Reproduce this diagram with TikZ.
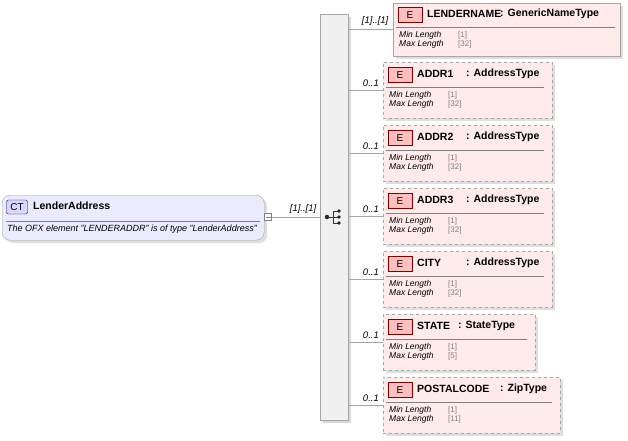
\documentclass[tikz,border=0pt]{standalone}
\usepackage{fontspec}
\setmainfont{Liberation Sans}
\begin{document}
\begin{tikzpicture}[x=1pt,y=-1pt,
  el/.style={draw=gray!70, fill=red!8, minimum height=56pt, anchor=north west, inner sep=0pt},
  opt/.style={el, dashed},
  shadow/.style={fill=gray!25, draw=none},
  badge/.style={draw=red!50!black, fill=red!25, font=\fontsize{10}{11}\selectfont, minimum width=24pt, minimum height=15pt, inner sep=0pt},
  ttl/.style={font=\bfseries\fontsize{10.5}{12}\selectfont, anchor=west, inner sep=0pt},
  prop/.style={font=\itshape\fontsize{8.5}{9}\selectfont, anchor=west, inner sep=0pt},
  val/.style={font=\fontsize{8}{9}\selectfont, text=gray, anchor=west, inner sep=0pt},
  card/.style={font=\itshape\fontsize{9.5}{10}\selectfont, anchor=south},
  conn/.style={draw=gray!70}]
\useasboundingbox (0,0) rectangle (628,440);
% CT
\fill[gray!25, rounded corners=8pt] (5,198) rectangle (267,243);
\node[draw=gray!70, fill=blue!8, rounded corners=8pt, minimum width=262pt, minimum height=45pt, anchor=north west, inner sep=0pt] (ct) at (2,195) {};
\node[draw=blue!50!black, fill=blue!15, rounded corners=2pt, font=\fontsize{10}{11}\selectfont, minimum width=21pt, minimum height=14pt, inner sep=0pt] (ctb) at (17,207) {CT};
\node[ttl] (ctt) at (33,206) {LenderAddress};
\draw[gray] (6,221) -- (260,221);
\node[prop, font=\itshape\fontsize{9}{10}\selectfont] (ctd) at (7,229) {The OFX element "LENDERADDR" is of type "LenderAddress"};
\node[draw=gray, fill=white, minimum size=7pt, inner sep=0pt] (sq) at (268,217) {};
\draw[gray] (265.5,217)--(270.5,217);
% sequence
\fill[gray!30] (323,17) rectangle (351,423);
\node[draw=gray!70, fill=gray!12, minimum width=28pt, minimum height=406pt, anchor=north west, inner sep=0pt] (seq) at (320,14) {};
\coordinate (seqin) at (320,217);
\draw[conn] (sq.east) -- (seqin) node[card, pos=0.65] {[1]..[1]};
% seq icon
\draw[gray!40!black, line width=0.8pt] (327,217) -- (333,217) (333,211) -- (333,223) (333,211)--(339,211) (333,217)--(339,217) (333,223)--(339,223);
\fill[gray!30!black] (327,217) circle (2.2) (339,211) circle (1.8) (339,217) circle (1.8) (339,223) circle (1.8);
% children
\foreach \n/\y/\w/\t/\tx/\ty/\mx in {
  a/62/169/ADDR1/466/{: AddressType}/32,
  b/125/169/ADDR2/466/{: AddressType}/32,
  c/188/169/ADDR3/466/{: AddressType}/32,
  d/251/169/CITY/466/{: AddressType}/32,
  e/314/152/STATE/458/{: StateType}/5,
  f/377/177/POSTALCODE/500/{: ZipType}/11}{
  \fill[shadow] (386,\y+3) rectangle (383+\w+3,\y+59);
  \node[opt, minimum width=\w pt] (\n) at (383,\y) {};
  \node[badge] (\n b) at (400,\y+13) {E};
  \node[ttl] (\n t) at (417,\y+12) {\t};
  \node[ttl] (\n ty) at (\tx,\y+12) {\ty};
  \draw[gray] (386,\y+25) -- (383+\w-8,\y+25);
  \node[prop] (\n p1) at (389,\y+33) {Min Length};
  \node[prop] (\n p2) at (389,\y+42) {Max Length};
  \node[val] (\n v1) at (448,\y+33) {[1]};
  \node[val] (\n v2) at (448,\y+42) {[\mx]};
  \draw[conn] (seq.east |- \n.west) -- (\n.west) node[card, pos=0.65] {0..1};
}
% LENDERNAME
\fill[shadow] (396,6) rectangle (623,59);
\node[el, minimum width=227pt, minimum height=53pt] (g) at (393,3) {};
\node[badge] (gb) at (410,15) {E};
\node[ttl] (gt) at (427,14) {LENDERNAME};
\node[ttl] (gty) at (500,14) {: GenericNameType};
\draw[gray] (396,27) -- (615,27);
\node[prop] (gp1) at (399,35) {Min Length};
\node[prop] (gp2) at (399,44) {Max Length};
\node[val] (gv1) at (458,35) {[1]};
\node[val] (gv2) at (458,44) {[32]};
\coordinate (gin) at (393,29);
\draw[conn] (seq.east |- gin) -- (gin) node[card, pos=0.6] {[1]..[1]};
\end{tikzpicture}
\end{document}
